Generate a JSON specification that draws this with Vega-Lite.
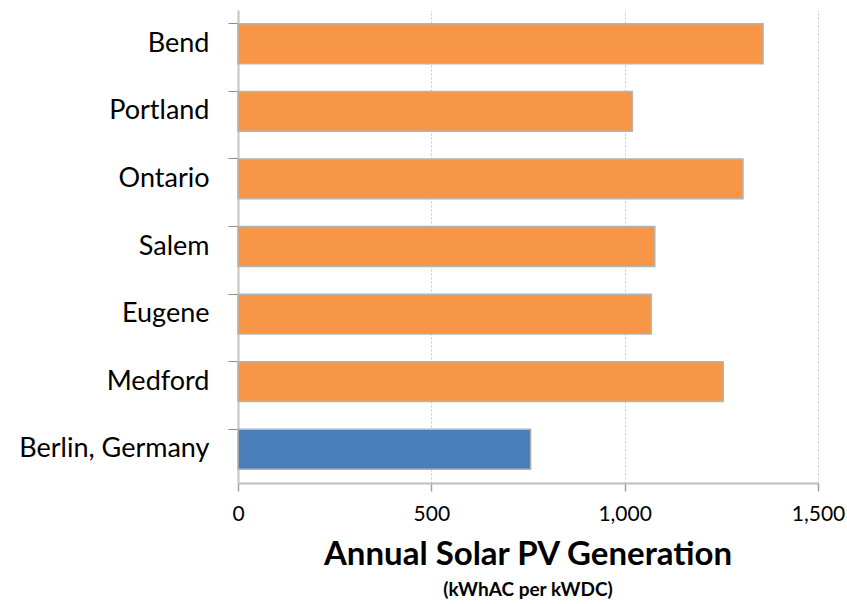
{
  "$schema": "https://vega.github.io/schema/vega-lite/v6.json",
  "width": 580,
  "height": 473,
  "autosize": {"type": "none"},
  "padding": {"left": 238, "top": 10, "right": 29, "bottom": 121},
  "background": "white",
  "config": {
    "view": {"stroke": null},
    "font": "Lato"
  },
  "title": {
    "text": "Annual Solar PV Generation",
    "subtitle": "(kWhAC per kWDC)",
    "orient": "bottom",
    "anchor": "middle",
    "frame": "group",
    "font": "Lato",
    "fontSize": 33,
    "fontWeight": "bold",
    "color": "#000000",
    "subtitleFont": "Lato",
    "subtitleFontSize": 19,
    "subtitleFontWeight": "bold",
    "subtitleColor": "#000000",
    "subtitlePadding": 9,
    "offset": 15
  },
  "data": {
    "values": [
      {"city": "Bend", "value": 1358, "group": "Oregon"},
      {"city": "Portland", "value": 1020, "group": "Oregon"},
      {"city": "Ontario", "value": 1306, "group": "Oregon"},
      {"city": "Salem", "value": 1078, "group": "Oregon"},
      {"city": "Eugene", "value": 1069, "group": "Oregon"},
      {"city": "Medford", "value": 1255, "group": "Oregon"},
      {"city": "Berlin, Germany", "value": 757, "group": "Germany"}
    ]
  },
  "mark": {"type": "bar", "stroke": "#b4b4b4", "strokeWidth": 1.5},
  "encoding": {
    "y": {
      "field": "city",
      "type": "nominal",
      "sort": null,
      "scale": {"paddingInner": 0.41, "paddingOuter": 0.205},
      "axis": {
        "title": null,
        "bandPosition": 0,
        "tickSize": 10,
        "tickColor": "#8c8c8c",
        "tickWidth": 1,
        "domainColor": "#c4c4c4",
        "domainWidth": 2,
        "labelFontSize": 27,
        "labelColor": "#000000",
        "labelPadding": 19,
        "labelLimit": 400,
        "labelFont": "Lato",
        "labelFontWeight": "normal",
        "grid": false
      }
    },
    "x": {
      "field": "value",
      "type": "quantitative",
      "scale": {"domain": [0, 1500], "nice": false},
      "axis": {
        "title": null,
        "values": [0, 500, 1000, 1500],
        "format": ",d",
        "tickSize": 8,
        "tickColor": "#a0a0a0",
        "tickWidth": 1.5,
        "domainColor": "#bcbcbc",
        "domainWidth": 2,
        "labelFontSize": 21,
        "labelColor": "#000000",
        "labelPadding": 12,
        "labelFlush": false,
        "labelOverlap": false,
        "labelFont": "Lato",
        "labelFontWeight": "normal",
        "grid": true,
        "gridColor": "#c8c8c8",
        "gridDash": [2, 2],
        "gridWidth": 1
      }
    },
    "color": {
      "field": "group",
      "type": "nominal",
      "scale": {"domain": ["Oregon", "Germany"], "range": ["#F79646", "#4A7EBB"]},
      "legend": null
    }
  }
}
